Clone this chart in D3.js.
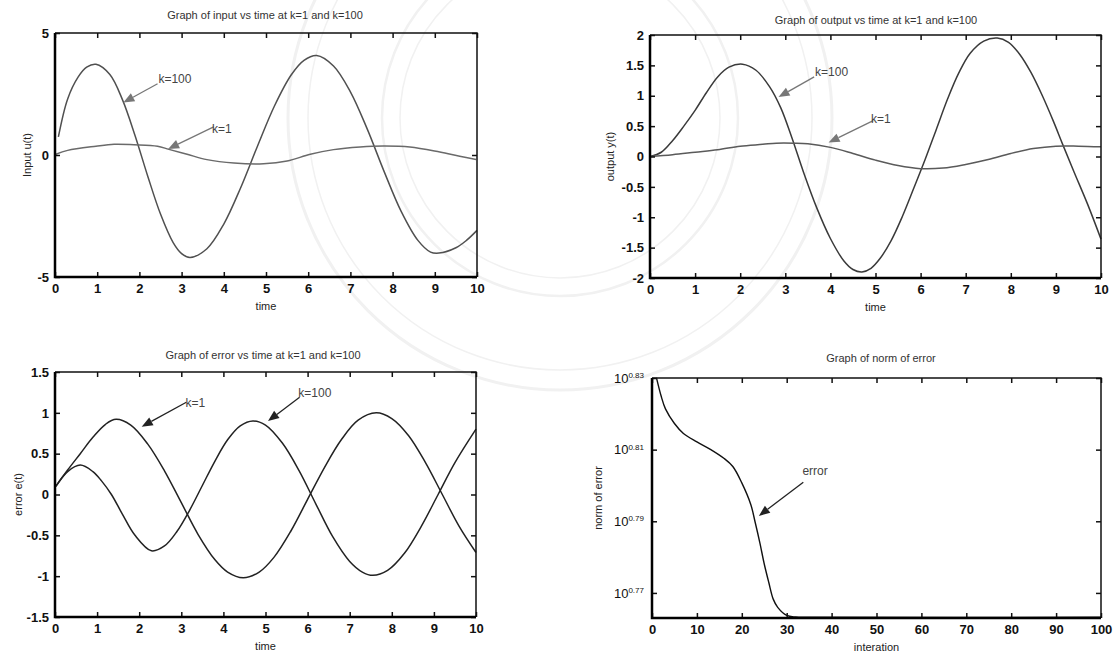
<!DOCTYPE html>
<html>
<head>
<meta charset="utf-8">
<script src="https://cdn.jsdelivr.net/npm/d3@7"></script>
<style>
  html, body { margin: 0; padding: 0; background: #fff; }
  svg { display: block; }
  .title { font-family: 'Liberation Sans', Arial, sans-serif; font-size: 11px; fill: #333; }
  .tick-label { font-family: 'Liberation Sans', Arial, sans-serif; font-size: 13px; font-weight: bold; fill: #111; }
  .axis-label { font-family: 'Liberation Sans', Arial, sans-serif; font-size: 11px; fill: #222; }
  .note { font-family: 'Liberation Sans', Arial, sans-serif; font-size: 12px; fill: #444; }
</style>
</head>
<body>
<svg id="fig" width="1117" height="660"></svg>
<script>
// ---- Input u(t) ----
const inputTime100 = [0.08,0.3,0.55,0.75,0.97,1.3,1.6,1.9,2.2,2.5,2.8,3.0,3.2,3.6,4.0,4.4,4.8,5.2,5.6,5.9,6.2,6.6,7.0,7.4,7.8,8.2,8.6,8.9,9.1,9.5,9.75,10];
const inputK100    = [0.74,2.3,3.2,3.6,3.72,3.3,2.26,0.78,-0.88,-2.42,-3.59,-4.04,-4.2,-3.84,-2.83,-1.34,0.37,2.01,3.29,3.88,4.08,3.65,2.59,1.06,-0.68,-2.3,-3.5,-3.98,-4.02,-3.8,-3.5,-3.09];
const inputTime1   = [0.02,0.3,0.97,1.4,1.87,2.43,2.7,3.13,3.6,4.24,4.94,5.5,6.05,6.6,7.23,7.78,8.41,9.12,9.59,9.98];
const inputK1      = [0.03,0.19,0.36,0.44,0.42,0.36,0.23,0.03,-0.19,-0.33,-0.36,-0.25,0.03,0.22,0.33,0.37,0.33,0.12,-0.05,-0.18];

// ---- Output y(t) ----
const outputTime100 = [0,0.25,0.5,0.75,1.0,1.25,1.5,1.75,2.05,2.35,2.65,2.9,3.15,3.4,3.7,4.0,4.3,4.5,4.7,4.9,5.1,5.35,5.6,5.85,6.1,6.35,6.6,6.85,7.1,7.4,7.7,7.95,8.2,8.45,8.7,8.95,9.15,9.4,9.7,10];
const outputK100    = [0,0.07,0.26,0.5,0.76,1.05,1.31,1.47,1.52,1.42,1.15,0.8,0.3,-0.25,-0.85,-1.35,-1.72,-1.86,-1.9,-1.84,-1.68,-1.38,-0.98,-0.52,-0.05,0.45,0.95,1.38,1.7,1.9,1.95,1.88,1.68,1.38,1.0,0.57,0.2,-0.25,-0.78,-1.36];
const outputTime1   = [0,0.5,1,1.5,2,2.5,2.8,3.2,3.5,4,4.5,5,5.5,6,6.5,7,7.5,8,8.5,9,9.5,10];
const outputK1      = [0,0.03,0.07,0.11,0.17,0.2,0.22,0.22,0.21,0.15,0.05,-0.06,-0.15,-0.2,-0.19,-0.13,-0.05,0.05,0.13,0.17,0.17,0.16];

// ---- Error e(t) ----
const errorTime1 = [0.02,0.3,0.6,0.9,1.2,1.45,1.8,2.2,2.6,3.0,3.4,3.8,4.1,4.47,4.85,5.2,5.6,6.0,6.4,6.8,7.2,7.63,8.0,8.4,8.8,9.2,9.6,10];
const errorK1    = [0.1,0.3,0.5,0.7,0.86,0.92,0.85,0.62,0.29,-0.1,-0.49,-0.8,-0.95,-1.02,-0.95,-0.77,-0.45,-0.06,0.33,0.67,0.91,1.0,0.93,0.72,0.39,0.0,-0.39,-0.71];
const errorTime100 = [0.02,0.3,0.6,0.9,1.1,1.34,1.6,1.9,2.29,2.6,2.9,3.2,3.5,3.8,4.1,4.4,4.7,5.0,5.4,5.8,6.2,6.6,7.0,7.3,7.55,7.9,8.3,8.7,9.1,9.5,10];
const errorK100    = [0.1,0.28,0.36,0.28,0.17,0.0,-0.24,-0.5,-0.69,-0.63,-0.45,-0.19,0.11,0.41,0.67,0.84,0.9,0.85,0.63,0.29,-0.12,-0.52,-0.82,-0.95,-0.99,-0.93,-0.72,-0.39,0.0,0.39,0.8];

// ---- Norm of error per iteration ----
const iterations = [1,2,3,5,7,10,13,16,18,20,22,23,24,25,26,27,28,30,32,35,100];
const errorNorm  = [6.761,6.685,6.628,6.566,6.524,6.489,6.458,6.421,6.387,6.320,6.233,6.160,6.083,5.999,5.929,5.865,5.834,5.804,5.798,5.797,5.797];
const normTickExponents = [0.77,0.79,0.81,0.83];

const timeTicks = [0,1,2,3,4,5,6,7,8,9,10];
const inputTicks = [-5,0,5];
const outputTicks = [-2,-1.5,-1,-0.5,0,0.5,1,1.5,2];
const errorTicks = [-1.5,-1,-0.5,0,0.5,1,1.5];
const iterTicks = [0,10,20,30,40,50,60,70,80,90,100];

const svg = d3.select('#fig');

// faint seal printed behind the figure
const seal = svg.append('g').attr('fill', 'none').attr('stroke', '#f1f1f1');
[[272, 3], [252, 1.5], [178, 2.5], [160, 1.5]].forEach(([r, w]) => {
  seal.append('circle').attr('cx', 560).attr('cy', 118).attr('r', r).attr('stroke-width', w);
});

function panel(cfg) {
  const g = svg.append('g');
  const x = cfg.x, y = cfg.y;
  const [xl, xr] = x.range();
  const [yb, yt] = y.range();

  // curves
  const line = d3.line().x(d => x(d[0])).y(d => y(d[1])).curve(d3.curveCatmullRom.alpha(0.5));
  cfg.series.forEach(s => {
    g.append('path')
      .datum(d3.zip(s.t, s.v))
      .attr('d', line)
      .attr('fill', 'none')
      .attr('stroke', s.color)
      .attr('stroke-width', s.width || 1.5)
      .attr('stroke-linejoin', 'round');
  });

  // axes, ticks pointing inward on all four sides
  const tickLen = 5;
  const bottom = d3.axisBottom(x).tickValues(cfg.xTicks).tickSizeInner(-tickLen).tickSizeOuter(0).tickPadding(7).tickFormat(d3.format('d'));
  const top = d3.axisTop(x).tickValues(cfg.xTicks).tickSizeInner(-tickLen).tickSizeOuter(0).tickFormat('');
  const left = d3.axisLeft(y).tickValues(cfg.yTicks).tickSizeInner(-tickLen).tickSizeOuter(0).tickPadding(6).tickFormat(cfg.yFormat || (d => d));
  const right = d3.axisRight(y).tickValues(cfg.yTicks).tickSizeInner(-tickLen).tickSizeOuter(0).tickFormat('');

  const styleAxis = sel => {
    sel.select('.domain').remove();
    sel.selectAll('line').attr('stroke', '#111').attr('stroke-width', 1.5);
    sel.selectAll('text').attr('class', 'tick-label').attr('fill', null);
  };
  g.append('g').attr('transform', `translate(0,${yb})`).call(bottom).call(styleAxis);
  g.append('g').attr('transform', `translate(0,${yt})`).call(top).call(styleAxis);
  const ly = g.append('g').attr('transform', `translate(${xl},0)`).call(left).call(styleAxis);
  g.append('g').attr('transform', `translate(${xr},0)`).call(right).call(styleAxis);
  if (cfg.yLabelFn) cfg.yLabelFn(ly);

  // frame: heavier left and bottom edges
  g.append('path').attr('d', `M${xl},${yt}H${xr}V${yb}`).attr('fill', 'none').attr('stroke', '#111').attr('stroke-width', 1.5);
  g.append('path').attr('d', `M${xl},${yt}V${yb}H${xr}`).attr('fill', 'none').attr('stroke', '#000').attr('stroke-width', 2.5);

  // texts
  g.append('text').attr('class', 'title').attr('x', cfg.titleX).attr('y', cfg.titleY).attr('text-anchor', 'middle').text(cfg.title);
  g.append('text').attr('class', 'axis-label').attr('x', (xl + xr) / 2).attr('y', yb + 33).attr('text-anchor', 'middle').text(cfg.xLabel);
  g.append('text').attr('class', 'axis-label')
    .attr('transform', `translate(${cfg.yLabelX},${(yb + yt) / 2}) rotate(-90)`)
    .attr('text-anchor', 'middle').text(cfg.yLabel);

  // arrows with labels
  (cfg.notes || []).forEach(n => {
    const sx = x(n.from[0]), sy = y(n.from[1]);
    const ex = x(n.to[0]), ey = y(n.to[1]);
    const ang = Math.atan2(ey - sy, ex - sx);
    const hl = 11, hw = 4.5;
    const bx = ex - hl * Math.cos(ang), by = ey - hl * Math.sin(ang);
    g.append('line').attr('x1', sx).attr('y1', sy).attr('x2', bx).attr('y2', by)
      .attr('stroke', n.color).attr('stroke-width', 1.3);
    g.append('path')
      .attr('d', `M${ex},${ey}L${bx + hw * Math.sin(ang)},${by - hw * Math.cos(ang)}L${bx - hw * Math.sin(ang)},${by + hw * Math.cos(ang)}Z`)
      .attr('fill', n.color);
    g.append('text').attr('class', 'note').attr('x', x(n.text[0])).attr('y', y(n.text[1]))
      .attr('fill', n.color).text(n.label);
  });
  return g;
}

// Panel 1: input
panel({
  x: d3.scaleLinear().domain([0, 10]).range([55, 477]),
  y: d3.scaleLinear().domain([-5, 5]).range([277, 33]),
  xTicks: timeTicks, yTicks: inputTicks,
  title: 'Graph of input vs time at k=1  and  k=100', titleX: 265, titleY: 19,
  xLabel: 'time', yLabel: 'Input u(t)', yLabelX: 31,
  series: [
    { t: inputTime100, v: inputK100, color: '#505050' },
    { t: inputTime1, v: inputK1, color: '#6a6a6a' }
  ],
  notes: [
    { label: 'k=100', from: [2.43, 2.92], to: [1.62, 2.15], text: [2.45, 2.95], color: '#777' },
    { label: 'k=1', from: [3.76, 1.15], to: [2.68, 0.25], text: [3.72, 0.92], color: '#777' }
  ]
});

// Panel 2: output
panel({
  x: d3.scaleLinear().domain([0, 10]).range([650, 1101]),
  y: d3.scaleLinear().domain([-2, 2]).range([278, 35]),
  xTicks: timeTicks, yTicks: outputTicks,
  title: 'Graph of output vs time at  k=1  and  k=100', titleX: 876, titleY: 24,
  xLabel: 'time', yLabel: 'output y(t)', yLabelX: 614,
  series: [
    { t: outputTime100, v: outputK100, color: '#3a3a3a' },
    { t: outputTime1, v: outputK1, color: '#5a5a5a' }
  ],
  notes: [
    { label: 'k=100', from: [3.64, 1.31], to: [2.85, 0.98], text: [3.66, 1.33], color: '#777' },
    { label: 'k=1', from: [4.95, 0.59], to: [3.96, 0.23], text: [4.9, 0.55], color: '#777' }
  ]
});

// Panel 3: error
panel({
  x: d3.scaleLinear().domain([0, 10]).range([55, 476]),
  y: d3.scaleLinear().domain([-1.5, 1.5]).range([617, 372]),
  xTicks: timeTicks, yTicks: errorTicks,
  title: 'Graph of error vs time at k=1  and  k=100', titleX: 263, titleY: 359,
  xLabel: 'time', yLabel: 'error e(t)', yLabelX: 22,
  series: [
    { t: errorTime1, v: errorK1, color: '#222' },
    { t: errorTime100, v: errorK100, color: '#222' }
  ],
  notes: [
    { label: 'k=1', from: [3.12, 1.13], to: [2.06, 0.83], text: [3.1, 1.07], color: '#222' },
    { label: 'k=100', from: [5.81, 1.19], to: [5.06, 0.9], text: [5.78, 1.2], color: '#222' }
  ]
});

// Panel 4: norm of error (log scale)
const normX = d3.scaleLinear().domain([0, 100]).range([652, 1101]);
const normY = d3.scaleLog().domain([Math.pow(10, 0.763), Math.pow(10, 0.83)]).range([618, 378]);
panel({
  x: normX, y: normY,
  xTicks: iterTicks, yTicks: normTickExponents.map(e => Math.pow(10, e)),
  yFormat: () => '',
  yLabelFn: ly => {
    ly.selectAll('.tick').each(function (d, i) {
      const t = d3.select(this).append('text').attr('class', 'tick-label').attr('x', -8).attr('dy', '0.32em')
        .attr('text-anchor', 'end').style('font-weight', 'normal');
      t.append('tspan').text('10');
      t.append('tspan').attr('dy', '-0.6em').style('font-size', '8px').text(normTickExponents[i].toFixed(2));
    });
  },
  title: 'Graph of norm of error', titleX: 881, titleY: 362,
  xLabel: 'interation', yLabel: 'norm of error', yLabelX: 602,
  series: [ { t: iterations, v: errorNorm, color: '#111', width: 1.4 } ],
  notes: [
    { label: 'error', from: [33.7, Math.pow(10, 0.8009)], to: [23.8, Math.pow(10, 0.7915)], text: [33.5, Math.pow(10, 0.803)], color: '#222' }
  ]
});
</script>
</body>
</html>
